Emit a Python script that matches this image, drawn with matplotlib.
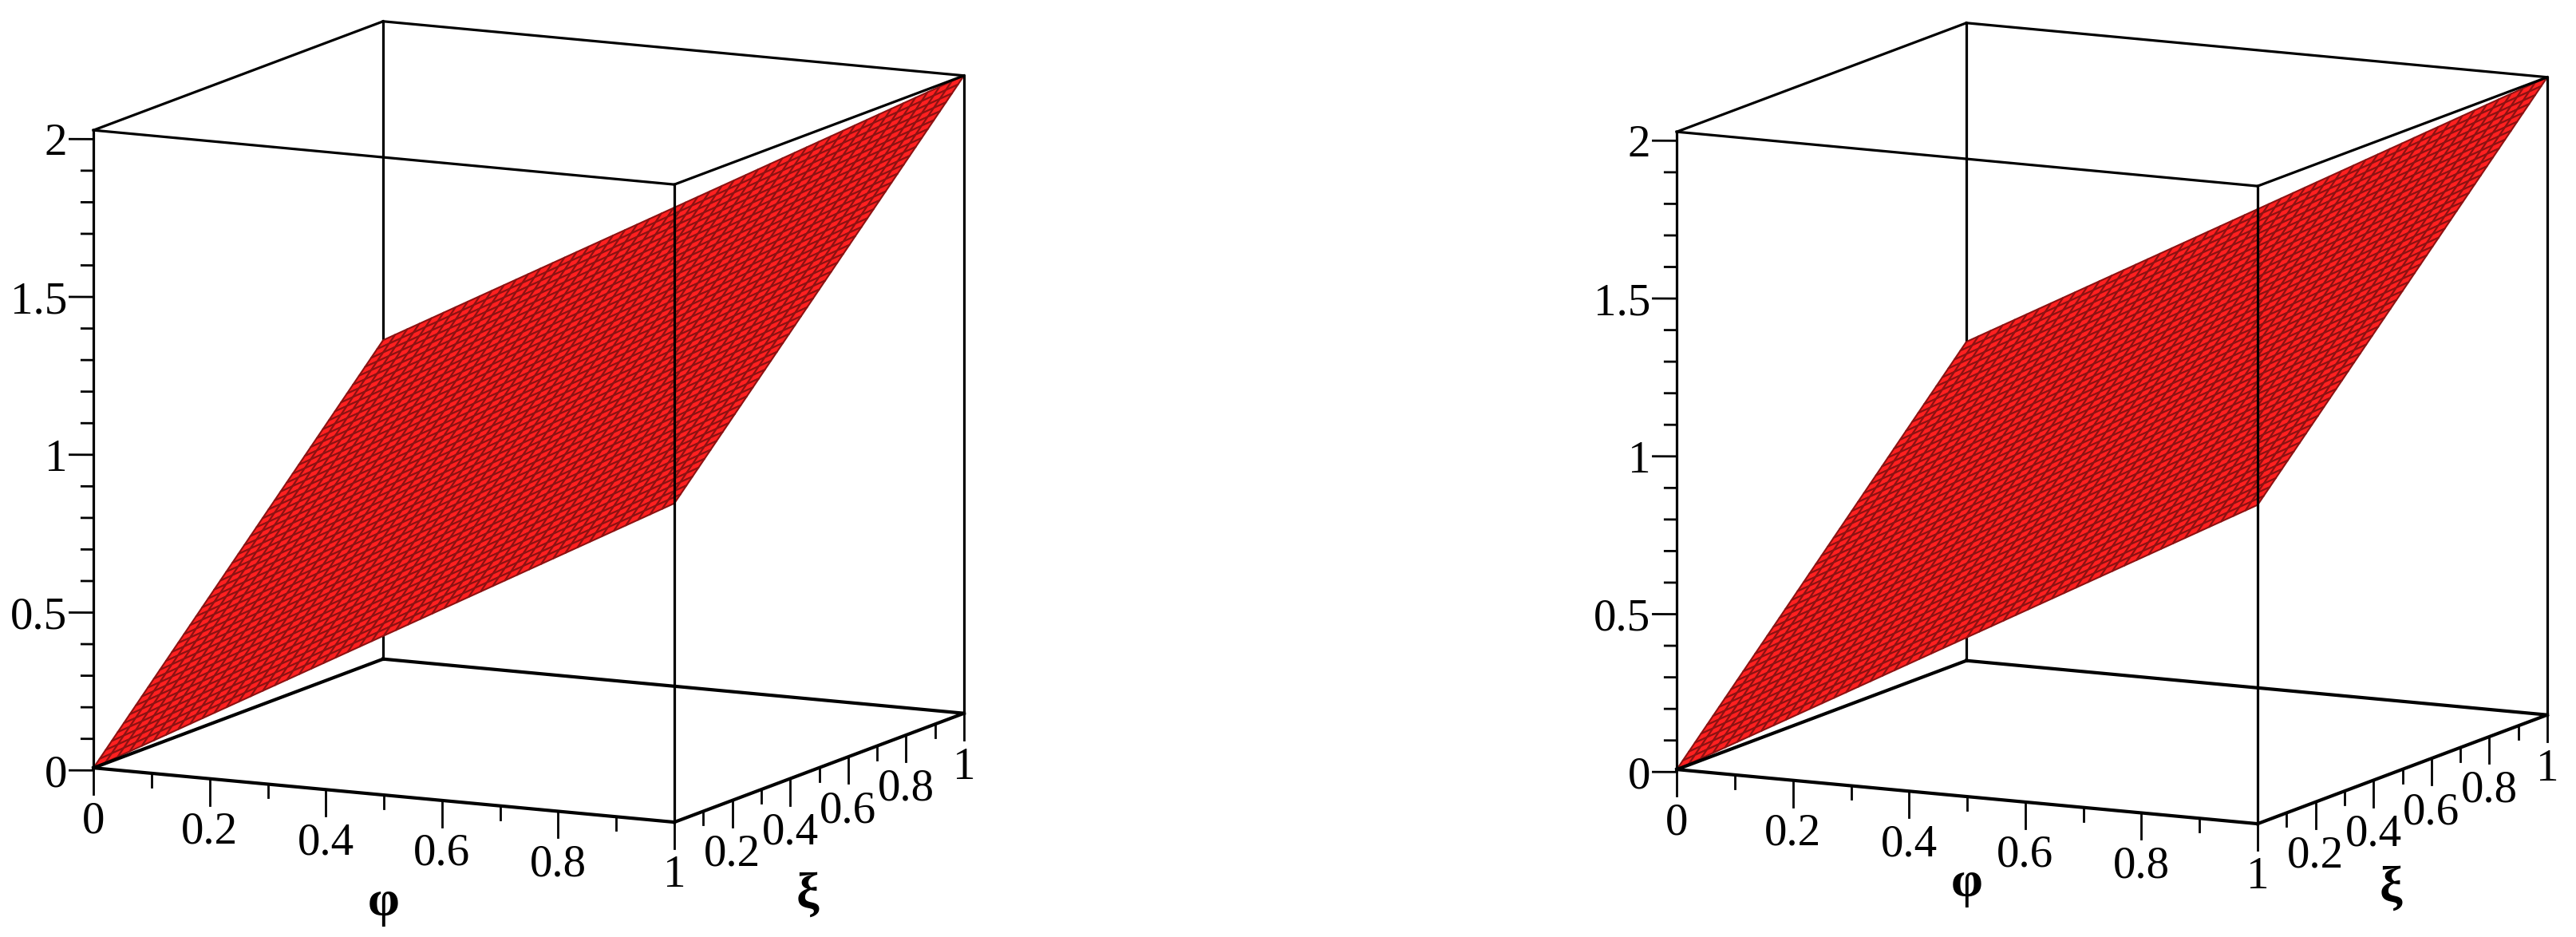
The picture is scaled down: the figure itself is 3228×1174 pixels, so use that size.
import numpy as np
import matplotlib
matplotlib.use("Agg")
import matplotlib.pyplot as plt
from matplotlib.transforms import offset_copy
from mpl_toolkits.mplot3d import proj3d

# --- data ---------------------------------------------------------------
PHI_MAJOR = [0, 0.2, 0.4, 0.6, 0.8, 1]
PHI_LABELS = ["0", "0.2", "0.4", "0.6", "0.8", "1"]
PHI_MINOR = [0.1, 0.3, 0.5, 0.7, 0.9]
XI_MAJOR = [0.2, 0.4, 0.6, 0.8, 1]
XI_LABELS = ["0.2", "0.4", "0.6", "0.8", "1"]
XI_MINOR = [0.1, 0.3, 0.5, 0.7, 0.9]
Z_MAJOR = [0, 0.5, 1, 1.5, 2]
Z_LABELS = ["0", "0.5", "1", "1.5", "2"]
Z_MINOR = [0.1, 0.2, 0.3, 0.4, 0.6, 0.7, 0.8, 0.9, 1.1, 1.2, 1.3, 1.4, 1.6, 1.7, 1.8, 1.9]
PHI_GRID = np.linspace(0, 1, 49)
XI_GRID = np.linspace(0, 1, 49)

# --- layout -------------------------------------------------------------
W, H = 3228, 1174
DPI = 100
SIDE = 1300
ZOOM = 1.052
SERIF = "Liberation Serif"
PANELS = [
    dict(cx=645, cy=546, phi_lab=(0.5, -136), xi_lab=(0.46, -155)),
    dict(cx=2629, cy=548, phi_lab=(0.5, -110), xi_lab=(0.46, -145)),
]

fig = plt.figure(figsize=(W / DPI, H / DPI), dpi=DPI, facecolor="white")


def draw_panel(cfg):
    rect = [(cfg["cx"] - SIDE / 2) / W, 1 - (cfg["cy"] + SIDE / 2) / H, SIDE / W, SIDE / H]
    ax = fig.add_axes(rect, projection="3d", computed_zorder=False, proj_type="ortho")
    ax.patch.set_alpha(0)
    ax.set_axis_off()
    ax.view_init(elev=10.8, azim=-63.5)
    ax.set_box_aspect((1, 1, 1), zoom=ZOOM)

    k = dict(color="black", solid_capstyle="projecting")
    ax.plot([0, 0], [1, 1], [0, 2], lw=2.3, zorder=1, **k)
    P, X = np.meshgrid(PHI_GRID, XI_GRID)
    ax.plot_surface(P, X, P + X, rstride=1, cstride=1, color="#ff2020", shade=False,
                    edgecolor="#8c1212", linewidth=1.5, antialiased=True, zorder=2)
    # frame
    ax.plot([0, 1], [0, 0], [0, 0], lw=3.0, zorder=3, **k)
    ax.plot([1, 1], [0, 1], [0, 0], lw=3.0, zorder=3, **k)
    ax.plot([1, 0], [1, 1], [0, 0], lw=3.0, zorder=3, **k)
    ax.plot([0, 0], [1, 0], [0, 0], lw=3.0, zorder=3, **k)
    ax.plot([0, 1], [0, 0], [2, 2], lw=2.3, zorder=3, **k)
    ax.plot([1, 1], [0, 1], [2, 2], lw=2.3, zorder=3, **k)
    ax.plot([1, 0], [1, 1], [2, 2], lw=2.3, zorder=3, **k)
    ax.plot([0, 0], [1, 0], [2, 2], lw=2.3, zorder=3, **k)
    ax.plot([0, 0], [0, 0], [0, 2], lw=2.3, zorder=3, **k)
    ax.plot([1, 1], [0, 0], [0, 2], lw=2.3, zorder=3, **k)
    ax.plot([1, 1], [1, 1], [0, 2], lw=2.3, zorder=3, **k)

    tk = dict(color="black", lw=2.0, zorder=3)
    for v in PHI_MAJOR:
        ax.plot([v, v], [0, 0], [0, -0.0825], **tk)
    for v in PHI_MINOR:
        ax.plot([v, v], [0, 0], [0, -0.0425], **tk)
    for v in XI_MAJOR:
        ax.plot([1, 1], [v, v], [0, -0.0825], **tk)
    for v in XI_MINOR:
        ax.plot([1, 1], [v, v], [0, -0.0425], **tk)
    # z axis: ticks run horizontally left on screen
    for v in Z_MAJOR:
        zt = v * 0.99 - 0.008
        ax.plot([0, -0.033], [0, -0.0157], [zt, zt], **tk)
    for v in Z_MINOR:
        zt = v * 0.99 - 0.008
        ax.plot([0, -0.0165], [0, -0.0078], [zt, zt], **tk)

    ax.set_xlim(0, 1, view_margin=0)
    ax.set_ylim(0, 1, view_margin=0)
    ax.set_zlim(0, 2, view_margin=0)

    # labels: flat text anchored on a projected data point, offset in pixels
    M = ax.get_proj()

    def label(x, y, z, s, dx=0, dy=0, ha="center", **kw):
        px, py, _ = proj3d.proj_transform(x, y, z, M)
        tr = offset_copy(ax.transData, fig=fig, x=dx, y=dy, units="dots")
        style = dict(family=SERIF, fontsize=41, va="center", color="black", zorder=4)
        style.update(kw)
        ax.text2D(px, py, s, transform=tr, ha=ha, **style)

    for v, s in zip(PHI_MAJOR, PHI_LABELS):
        label(v, 0, 0, s, dy=-67)
    for v, s in zip(XI_MAJOR, XI_LABELS):
        label(1, v, 0, s, dy=-68)
    for v, s in zip(Z_MAJOR, Z_LABELS):
        label(0, 0, v * 0.99 - 0.008, s, dx=-33, dy=-6, ha="right")
    bold = dict(fontsize=46, fontweight="bold")
    label(cfg["phi_lab"][0], 0, 0, "φ", dy=cfg["phi_lab"][1], **bold)
    label(1, cfg["xi_lab"][0], 0, "ξ", dy=cfg["xi_lab"][1], **bold)


for cfg in PANELS:
    draw_panel(cfg)

fig.savefig("out.png", dpi=DPI, facecolor="white")
